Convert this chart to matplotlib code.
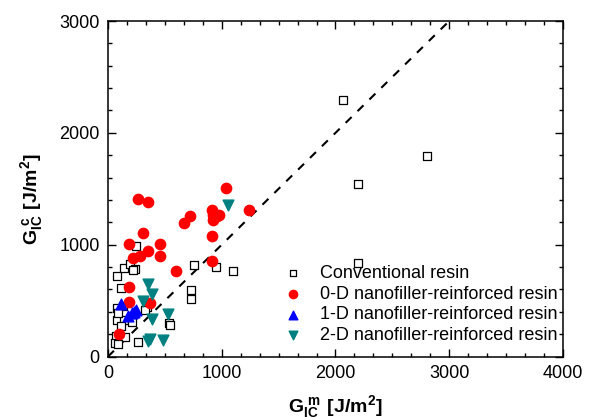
import matplotlib
matplotlib.use("Agg")
import matplotlib.pyplot as plt
from matplotlib.ticker import MultipleLocator, AutoMinorLocator

# Fracture toughness of composites (G_IC^c) vs matrix resin (G_IC^m), J/m^2

conv_x = [2069, 2801, 2201, 2198, 246, 141, 193, 237, 82, 112, 756, 949, 1102,
          730, 730, 76, 135, 340, 325, 76, 141, 208, 112, 539, 545, 67, 149,
          62, 90, 267, 91, 220]
conv_y = [2290, 1794, 1546, 833, 988, 794, 824, 785, 716, 615, 815, 800, 761,
          591, 516, 433, 448, 440, 412, 328, 328, 308, 269, 298, 285, 188, 173,
          119, 110, 128, 391, 770]

d0_x = [1034, 261, 355, 1240, 911, 926, 961, 926, 721, 668, 917, 911, 311, 185,
        457, 355, 223, 281, 457, 598, 187, 187, 369, 100, 980]
d0_y = [1507, 1412, 1385, 1313, 1313, 1262, 1253, 1224, 1257, 1197, 1075, 854,
        1104, 1009, 1003, 943, 884, 895, 895, 764, 621, 486, 477, 203, 1265]

d1_x = [114, 246, 208, 230, 180]
d1_y = [472, 418, 388, 400, 365]

d2_x = [1058, 354, 384, 311, 384, 530, 369, 355, 481]
d2_y = [1352, 645, 555, 501, 337, 382, 158, 137, 149]

plt.rcParams["font.family"] = ["Liberation Sans", "DejaVu Sans"]
plt.rcParams["mathtext.fontset"] = "custom"
plt.rcParams["mathtext.rm"] = "Liberation Sans"
plt.rcParams["mathtext.bf"] = "Liberation Sans:bold"

fig = plt.figure(figsize=(5.92, 4.2), dpi=100)
ax = fig.add_axes([0.1824, 0.151, 0.7686, 0.799])

ax.plot([0, 3000], [0, 3000], color="black", lw=1.5, ls=(0, (4, 4)), zorder=1)

ax.scatter(conv_x, conv_y, marker="s", s=32, facecolors="white",
           edgecolors="black", linewidths=0.9, label="Conventional resin", zorder=2)
ax.scatter(d0_x, d0_y, marker="o", s=55, color="#ff0000",
           label="0-D nanofiller-reinforced resin", zorder=3)
ax.scatter(d1_x, d1_y, marker="^", s=60, color="#0000ff",
           label="1-D nanofiller-reinforced resin", zorder=3)
ax.scatter(d2_x, d2_y, marker="v", s=60, color="#008080",
           label="2-D nanofiller-reinforced resin", zorder=3)

ax.set_xlim(0, 4000)
ax.set_ylim(0, 3000)
ax.xaxis.set_major_locator(MultipleLocator(1000))
ax.xaxis.set_minor_locator(AutoMinorLocator(6))
ax.yaxis.set_major_locator(MultipleLocator(1000))
ax.yaxis.set_minor_locator(AutoMinorLocator(5))
ax.tick_params(which="both", direction="in", top=True, right=True,
               labelsize=13, width=1)
ax.tick_params(which="major", length=6, pad=6)
ax.tick_params(which="minor", length=3)
for sp in ax.spines.values():
    sp.set_linewidth(1.1)

ax.set_xlabel(r"$\mathbf{G_{IC}^{\ m}\ [J/m^2]}$", fontsize=14, labelpad=8)
ax.set_ylabel(r"$\mathbf{G_{IC}^{\ c}\ [J/m^2]}$", fontsize=14)
ax.yaxis.set_label_coords(-0.138, 0.47)

ax.legend(loc="lower left", bbox_to_anchor=(0.358, 0.0), frameon=False,
          fontsize=13, handlelength=1.0, handletextpad=1.0, labelspacing=0.2,
          borderpad=0.2, scatterpoints=1, markerscale=0.8)

fig.savefig("out.png", dpi=100)
